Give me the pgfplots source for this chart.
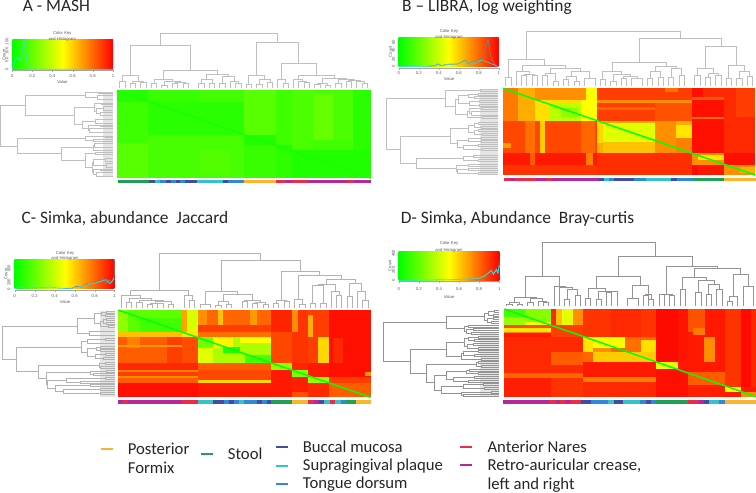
\documentclass[border=0pt]{standalone}
\usepackage{pgfplots}
\pgfplotsset{compat=1.18}
\usepackage{fontspec}
\setmainfont{Carlito}
\newfontfamily\hv{Liberation Sans}
\definecolor{kg}{rgb}{0,1,0}
\definecolor{ky}{rgb}{1,1,0}
\definecolor{kr}{rgb}{1,0,0}
\definecolor{cpo}{HTML}{FDB32B}
\definecolor{cst}{HTML}{1FA055}
\definecolor{cbu}{HTML}{3F4CA8}
\definecolor{csu}{HTML}{35C3C8}
\definecolor{cto}{HTML}{2F8AD6}
\definecolor{can}{HTML}{EE2A4A}
\definecolor{cre}{HTML}{B5289A}
\definecolor{kcy}{HTML}{35E0E8}
\pgfplotsset{panel/.style n args={4}{hide axis,scale only axis,y dir=reverse,
  xmin=0,xmax=#3,ymin=0,ymax=#4,width=#1,height=#2,anchor=north west}}
% cell of the heat map: x1 x2 y1 y2 value(0..100)
\def\Rr#1 #2 #3 #4 #5;{\ifnum#5<50 \edef\cc{ky!\the\numexpr2*#5\relax!kg}\else\edef\cc{kr!\the\numexpr2*#5-100\relax!ky}\fi
  \edef\tmp{\noexpand\addplot[forget plot,draw=none,fill=\cc] coordinates {(#1,#3)(#2,#3)(#2,#4)(#1,#4)} --cycle;}\tmp}
% dendrogram: x1 x2 y1 y2 top
\def\Tp#1 #2 #3 #4 #5;{\addplot[forget plot,den] coordinates {(#1,#3)(#1,#5)(#2,#5)(#2,#4)};}
\def\Up#1 #2 #3;{\edef\tmp{\noexpand\addplot[forget plot,den] coordinates {(#1,\yb)(#1,#3)(#2,#3)(#2,\yb)};}\tmp}
\def\Lt#1 #2 #3 #4 #5;{\addplot[forget plot,den] coordinates {(#3,#1)(#5,#1)(#5,#2)(#4,#2)};}
% sample colour bar
\def\Bb#1 #2 #3;{\edef\tmp{\noexpand\addplot[forget plot,draw=none,fill=#3] coordinates {(#1,\ba)(#2,\ba)(#2,\bb)(#1,\bb)} --cycle;}\tmp}
\def\Gg#1 #2 #3 #4;{\addplot[forget plot,draw=none,fill=gray!20] coordinates {(#1,#3)(#2,#3)(#2,#4)(#1,#4)} --cycle;}
\def\Diag#1 #2 #3 #4;{\addplot[forget plot,dg] coordinates {(#1,#2)(#3,#4)};}
\def\Key#1 #2 #3 #4 #5;{\addplot[forget plot,draw=none,left color=kg,right color=ky] coordinates {(#1,#4)(#2,#4)(#2,#5)(#1,#5)} --cycle;
  \addplot[forget plot,draw=none,left color=ky,right color=kr] coordinates {(#2,#4)(#3,#4)(#3,#5)(#2,#5)} --cycle;}
\def\KT#1 #2 #3 #4 #5;{\node[kt] at (axis cs:#1,#2) {Color Key};\node[kt] at (axis cs:#1,#3) {and Histogram};\node[kt] at (axis cs:#1,#5) {Value};}
\def\KX#1 #2 #3 #4 #5 #6 #7;{\node[kt] at (axis cs:#1,#7) {0};\node[kt] at (axis cs:#2,#7) {0.2};\node[kt] at (axis cs:#3,#7) {0.4};\node[kt] at (axis cs:#4,#7) {0.6};\node[kt] at (axis cs:#5,#7) {0.8};\node[kt] at (axis cs:#6,#7) {1};}
\def\KA#1 #2 #3 #4 #5 #6 #7 #8;{\addplot[forget plot,black!35,line width=.25bp] coordinates {(#1,#8)(#1,#7)(#2,#7)(#2,#8)(#2,#7)(#3,#7)(#3,#8)(#3,#7)(#4,#7)(#4,#8)(#4,#7)(#5,#7)(#5,#8)(#5,#7)(#6,#7)(#6,#8)};}
\def\KY#1 #2 #3;{\node[kt,rotate=90] at (axis cs:#1,#2) {#3};}
\tikzset{kt/.style={font=\hv\fontsize{4.2bp}{5bp}\selectfont,text=black!65,inner sep=0pt},
  ti/.style={font=\fontsize{17.4bp}{20bp}\selectfont,text=black!85,anchor=base west,inner sep=0pt},
  lg/.style={font=\fontsize{16.7bp}{19bp}\selectfont,text=black!85,anchor=base west,inner sep=0pt},
  dg/.style={color=kg,line width=1.5bp}}
\begin{document}
\begin{tikzpicture}[x=1bp,y=1bp]
\path[use as bounding box] (0,0) rectangle (756bp,493bp);
% ---------------- A
\begin{axis}[panel={378bp}{200bp}{1134}{600},at={(0bp,493bp)},den/.style={gray!50,line width=.45bp},dg/.style={color=ky!8!kg,line width=1.2bp}]
\node[ti] at (axis cs:68,36) {A - MASH};
\Key 37 188 339 119 208;
\KT 187 101 118 0 246; \KX 37 97 157 218 278 339 228; \KA 37 97 157 218 278 339 210 216;
\addplot[forget plot,kcy,line width=.7bp] coordinates {(37,208)(42,195)(47,175)(52,172)(58,180)(63,172)(68,150)(73,122)(78,160)(82,190)(88,200)(94,205)(100,208)(339,208)};
\KY 12 165 Count; \KY 21 208 0; \KY 21 180 50; \KY 21 153 100; \KY 21 125 150;
\Rr 351 1112 271 535 13;
\Rr 351 445 271 305 7; \Rr 351 445 305 430 12; \Rr 351 445 430 535 17;
\Rr 445 733 305 405 8; \Rr 445 733 405 535 14; \Rr 600 690 450 520 16; \Rr 445 600 271 305 11;
\Rr 733 827 271 405 17; \Rr 733 827 405 435 6; \Rr 733 827 435 535 11;
\Rr 827 875 271 435 12; \Rr 827 875 435 450 6; \Rr 827 875 450 535 9;
\Rr 875 1112 450 535 6; \Rr 940 1000 280 420 20; \Rr 1000 1060 280 420 15; \Rr 1060 1112 271 450 8; \Rr 875 940 271 450 15;
\Diag 351 271 1112 535;
\def\ba{541}\def\bb{550}
\Bb 353 447 cst; \Bb 447 465 cbu; \Bb 465 480 csu; \Bb 480 497 cto; \Bb 497 512 cbu; \Bb 512 527 cto; \Bb 527 541 cbu; \Bb 541 556 cto; \Bb 556 590 cbu; \Bb 590 669 csu; \Bb 669 685 cbu; \Bb 685 733 cto; \Bb 733 827 cpo; \Bb 827 857 can; \Bb 857 875 cre; \Bb 875 923 can; \Bb 923 1045 cre; \Bb 1045 1062 can; \Bb 1062 1112 cre;
\def\yb{265}
\Up 359 375 245; \Up 391 406 250; \Up 422 438 247; \Tp 398 430 250 247 244; \Tp 367 414 245 244 226;
\Up 454 470 250; \Up 485 501 257; \Up 517 533 250; \Up 549 565 250; \Tp 525 557 250 250 246; \Tp 493 541 257 246 243; \Tp 462 517 250 243 238;
\Up 596 612 250; \Up 628 644 250; \Tp 604 636 250 250 238; \Up 659 675 250; \Up 707 723 250; \Tp 691 715 265 250 245; \Tp 667 703 250 245 229; \Tp 620 685 238 229 222; \Tp 490 653 238 222 210; \Tp 391 572 226 210 137;
\Up 738 754 253; \Up 770 786 252; \Up 802 817 248; \Tp 778 810 252 248 238; \Tp 746 794 253 238 226;
\Up 849 865 250; \Tp 833 857 265 250 237; \Up 912 928 248; \Tp 896 920 265 248 244; \Tp 881 908 265 244 238;
\Up 944 960 254; \Up 975 991 256; \Tp 952 983 254 256 250; \Up 1007 1023 250; \Up 1039 1054 243; \Up 1086 1102 250; \Tp 1070 1094 265 250 245; \Tp 1046 1082 243 245 240; \Tp 1015 1064 250 240 238; \Tp 967 1039 250 238 236; \Tp 894 1003 238 236 226; \Tp 845 948 237 226 190; \Tp 770 896 226 190 127; \Tp 481 833 137 127 100;
\Gg 310 338 275 530;
\Lt 276 281 338 338 295; \Lt 287 298 338 338 293; \Lt 278 292 295 293 255;
\Lt 309 314 338 338 305; \Lt 320 331 338 338 310; \Lt 336 347 338 338 300; \Lt 325 341 310 300 290; \Lt 311 333 305 290 283;
\Lt 358 369 338 338 285; \Lt 375 380 338 338 300; \Lt 386 397 338 338 268; \Lt 377 391 300 268 264; \Lt 363 384 285 264 248; \Lt 322 373 283 248 222; \Lt 285 347 255 222 75;
\Lt 408 413 338 338 315; \Lt 419 424 338 338 280; \Lt 410 421 315 280 257; \Lt 430 441 338 338 283; \Lt 435 452 283 338 280;
\Lt 457 463 338 338 285; \Lt 474 485 338 338 315; \Lt 490 501 338 338 318; \Lt 479 495 315 318 281; \Lt 507 512 338 338 300; \Lt 518 529 338 338 290; \Lt 509 523 300 290 281; \Lt 487 516 281 281 278; \Lt 460 501 285 278 257; \Lt 443 480 280 257 185; \Lt 415 461 257 185 52; \Lt 316 438 75 52 1;
\end{axis}
% ---------------- B
\begin{axis}[panel={378bp}{200bp}{1134}{600},at={(378bp,493bp)},den/.style={gray!50,line width=.45bp}]
\node[ti] at (axis cs:72,36) {B – LIBRA, log weighting};
\Key 62 212 362 113 200;
\KT 213 95 111 0 238; \KX 62 122 182 242 302 362 220; \KA 62 122 182 242 302 362 203 209;
\addplot[forget plot,gray,line width=.7bp] coordinates {(150,199)(170,197)(180,192)(190,197)(210,193)(240,192)(262,180)(270,192)(285,184)(295,188)(305,178)(315,165)(322,145)(330,118)(335,150)(340,175)(348,190)(355,198)};
\addplot[forget plot,kcy,line width=.6bp] coordinates {(62,200)(150,199)(170,197)(180,192)(190,197)(210,193)(240,192)(262,182)(270,194)(285,186)(295,190)(305,182)(312,180)(362,200)};
\KY 37 155 Count; \KY 46 200 0; \KY 46 178 20; \KY 46 152 40; \KY 46 128 60;
\Rr 375 1132 265 525 93;
\Rr 375 420 265 362 76; \Rr 420 470 265 362 66; \Rr 470 658 265 362 56; \Rr 515 610 310 362 36; \Rr 550 600 325 350 28; \Rr 610 658 265 362 50; \Rr 470 515 265 300 72; \Rr 515 625 265 300 72;
\Rr 375 658 362 460 86; \Rr 485 500 362 460 60; \Rr 440 470 362 460 78; \Rr 610 650 362 460 80; \Rr 375 400 430 445 70;
\Rr 375 658 460 495 95; \Rr 625 645 460 495 75; \Rr 455 470 460 495 82; \Rr 375 658 495 525 90;
\Rr 658 943 265 362 88; \Rr 658 943 300 308 72; \Rr 658 943 320 330 80; \Rr 860 900 265 275 78; \Rr 830 943 308 362 84;
\Rr 658 943 362 460 66; \Rr 675 830 370 425 44; \Rr 675 830 425 460 62; \Rr 830 895 362 460 72; \Rr 895 943 375 415 55; \Rr 895 943 415 460 75; \Rr 658 675 362 430 58;
\Rr 658 943 460 525 91;
\Rr 943 1037 265 460 97; \Rr 943 1037 290 300 82; \Rr 943 1037 350 358 78; \Rr 975 1037 265 290 92;
\Rr 943 1037 460 495 72; \Rr 960 1037 465 480 55; \Rr 943 960 495 525 98; \Rr 960 1037 495 525 96;
\Rr 1037 1132 265 460 92; \Rr 1075 1132 265 350 88; \Rr 1037 1132 460 495 97;
\Rr 1037 1132 495 525 72; \Rr 1085 1132 500 520 66;
\Diag 375 265 1132 525;
\def\ba{534}\def\bb{544}
\Bb 379 393 can; \Bb 393 412 cre; \Bb 412 473 can; \Bb 473 504 cre; \Bb 504 521 can; \Bb 521 662 cre; \Bb 662 677 cbu; \Bb 677 692 csu; \Bb 692 709 cto; \Bb 709 767 cbu; \Bb 767 803 cto; \Bb 803 879 csu; \Bb 879 897 cbu; \Bb 897 944 cto; \Bb 944 1037 cst; \Bb 1037 1134 cpo;
\def\yb{258}
\Up 383 399 232; \Up 430 446 226; \Up 462 478 226; \Tp 438 470 226 226 222; \Tp 415 454 258 222 215;
\Up 493 509 226; \Up 525 541 245; \Tp 501 533 226 245 221; \Up 556 572 238; \Up 588 604 245; \Tp 564 596 238 245 230; \Up 619 651 235; \Tp 580 635 230 235 213; \Tp 517 607 221 213 205; \Tp 434 562 215 205 197; \Tp 391 498 232 197 178;
\Up 667 682 238; \Up 698 714 245; \Up 730 745 235; \Up 761 793 235; \Tp 737 777 235 235 228; \Tp 706 757 245 228 222; \Tp 674 731 238 222 214;
\Up 808 824 235; \Up 840 856 232; \Tp 816 848 235 232 213; \Up 871 887 232; \Up 903 919 226; \Tp 879 911 232 226 205; \Tp 832 895 213 205 198; \Tp 702 864 214 198 187;
\Up 950 966 226; \Up 982 997 232; \Up 1013 1029 226; \Tp 990 1021 232 226 220; \Tp 958 1005 226 220 204; \Up 1045 1060 235; \Up 1076 1092 235; \Up 1108 1123 228; \Tp 1084 1115 235 228 213; \Tp 1052 1100 235 213 197; \Tp 982 1076 204 197 139; \Tp 783 1029 187 139 114; \Tp 444 906 178 114 95;
\Gg 305 360 268 524;
\Lt 268 274 360 360 307; \Lt 279 285 360 360 300; \Lt 290 296 360 360 290; \Lt 282 293 300 290 270; \Lt 301 307 360 360 305; \Lt 312 318 360 360 305; \Lt 304 315 305 305 273; \Lt 287 310 270 273 240; \Lt 323 329 360 360 310; \Lt 334 345 360 360 280; \Lt 326 340 310 280 273; \Lt 350 356 360 360 313; \Lt 333 353 273 313 268; \Lt 298 343 240 268 232; \Lt 271 320 307 232 202;
\Lt 367 373 360 360 300; \Lt 378 384 360 360 310; \Lt 370 381 300 310 288; \Lt 389 395 360 360 300; \Lt 400 406 360 360 313; \Lt 392 403 300 313 290; \Lt 375 397 288 290 272;
\Lt 411 417 360 360 310; \Lt 422 428 360 360 310; \Lt 414 425 310 310 270; \Lt 433 439 360 360 300; \Lt 444 450 360 360 310; \Lt 436 447 300 310 255; \Lt 420 441 270 255 238; \Lt 386 430 272 238 217;
\Lt 466 472 360 360 285; \Lt 477 483 360 360 300; \Lt 469 480 285 300 255; \Lt 494 500 360 360 270; \Lt 505 511 360 360 270; \Lt 516 522 360 360 300; \Lt 508 519 270 300 238; \Lt 497 513 270 238 235; \Lt 475 505 255 235 116; \Lt 408 490 217 116 67; \Lt 295 449 202 67 26;
\end{axis}
% ---------------- C
\begin{axis}[panel={378bp}{215bp}{1134}{645},at={(0bp,288bp)},den/.style={gray!60,line width=.45bp}]
\node[ti] at (axis cs:64,55) {C- Simka, abundance\hspace{4bp} Jaccard};
\Key 44 195 343 163 252;
\KT 195 145 160 0 290; \KX 44 104 164 224 284 343 272; \KA 44 104 164 224 284 343 255 261;
\addplot[forget plot,gray,line width=.7bp] coordinates {(190,251)(215,250)(230,244)(245,246)(260,236)(270,240)(285,230)(295,236)(308,220)(318,235)(328,225)(336,232)(343,210)(343,165)};
\addplot[forget plot,kcy,line width=.7bp] coordinates {(44,252)(60,245)(75,249)(100,246)(120,248)(150,246)(180,250)(215,250)(245,244)(270,238)(295,232)(318,224)(330,236)(343,220)};
\KY 18 207 Count; \KY 27 252 0; \KY 27 232 200; \KY 27 190 600;
\Rr 355 1112 315 577 95;
\Rr 355 385 315 380 28; \Rr 385 545 315 380 18; \Rr 420 545 340 380 13;
\Rr 545 560 315 380 68; \Rr 560 593 315 380 42;
\Rr 355 545 380 396 62; \Rr 545 593 380 396 55;
\Rr 355 545 396 473 82; \Rr 380 420 396 430 75; \Rr 500 545 396 473 88; \Rr 355 545 420 426 70; \Rr 545 593 396 473 85;
\Rr 355 593 473 495 92; \Rr 355 593 495 500 75; \Rr 355 593 500 512 88; \Rr 355 593 512 520 72; \Rr 355 593 520 535 82; \Rr 355 593 535 577 97;
\Rr 593 813 315 380 80; \Rr 593 620 315 380 72; \Rr 655 670 315 380 62; \Rr 750 770 315 380 70; \Rr 593 813 360 380 88; \Rr 593 813 380 396 78;
\Rr 593 813 396 473 34; \Rr 593 640 396 430 22; \Rr 640 700 396 430 52; \Rr 670 720 425 445 6; \Rr 720 813 396 415 50; \Rr 593 640 430 473 44; \Rr 735 813 450 473 14;
\Rr 593 813 473 495 82; \Rr 593 813 495 525 86; \Rr 593 813 525 535 58; \Rr 593 813 535 577 95;
\Rr 813 877 315 380 93; \Rr 813 877 380 473 86; \Rr 813 877 473 495 28; \Rr 813 877 495 577 95;
\Rr 877 925 315 473 90; \Rr 877 893 315 380 72; \Rr 877 925 473 495 93; \Rr 877 925 495 515 25; \Rr 877 925 515 560 94; \Rr 877 925 560 577 84;
\Rr 925 988 315 473 88; \Rr 925 940 330 395 66; \Rr 955 988 396 473 58; \Rr 925 988 473 515 95; \Rr 925 988 515 535 30; \Rr 925 988 535 577 92;
\Rr 988 1112 315 515 97; \Rr 1000 1030 400 473 92; \Rr 988 1112 515 535 88; \Rr 988 1112 535 577 82; \Rr 1095 1112 500 512 70;
\Diag 355 315 1112 577;
\def\ba{584}\def\bb{596}
\Bb 355 370 cre; \Bb 370 384 can; \Bb 384 545 cre; \Bb 545 593 can; \Bb 593 640 csu; \Bb 640 672 cbu; \Bb 672 687 cto; \Bb 687 703 cbu; \Bb 703 718 cto; \Bb 718 733 csu; \Bb 733 770 cto; \Bb 770 785 cbu; \Bb 785 800 cto; \Bb 800 813 cbu; \Bb 813 877 cst; \Bb 877 925 cpo; \Bb 925 941 can; \Bb 941 958 cre; \Bb 958 973 cbu; \Bb 973 989 csu; \Bb 989 1005 can; \Bb 1005 1022 csu; \Bb 1022 1037 cto; \Bb 1037 1068 cst; \Bb 1068 1114 cpo;
\def\yb{310}
\Up 379 395 292; \Up 410 426 293; \Up 442 458 298; \Up 473 489 296; \Up 505 521 298; \Tp 450 481 298 296 294; \Tp 465 513 294 298 290; \Tp 418 489 293 290 285; \Tp 387 453 292 285 280; \Tp 363 420 310 280 272;
\Up 568 584 285; \Tp 552 576 310 285 272; \Tp 391 564 272 272 255;
\Up 600 631 298; \Up 647 663 300; \Up 678 694 298; \Tp 655 686 300 298 288; \Up 726 741 290; \Up 757 773 295; \Up 789 804 298; \Tp 765 796 295 298 292; \Tp 733 780 290 292 285; \Tp 670 757 288 285 268; \Tp 615 713 298 268 258;
\Up 820 836 296; \Up 852 867 290; \Tp 828 860 296 290 285; \Up 899 915 297; \Tp 883 907 310 297 283;
\Up 930 946 295; \Up 962 978 295; \Tp 938 970 295 295 240; \Up 1009 1025 270; \Tp 993 1017 310 270 258; \Tp 954 1005 240 258 238; \Up 1041 1056 275; \Up 1088 1104 285; \Tp 1072 1096 310 285 258; \Tp 1048 1084 275 258 236; \Tp 980 1066 238 236 222; \Tp 895 1023 283 222 211; \Tp 844 959 285 211 198; \Tp 664 901 258 198 165; \Tp 478 782 255 165 145;
\Gg 300 345 318 575;
\Lt 318 324 345 345 320; \Lt 329 335 345 345 315; \Lt 321 332 320 315 305; \Lt 340 346 345 345 320; \Lt 351 357 345 345 320; \Lt 343 354 320 320 310; \Lt 362 368 345 345 325; \Lt 348 365 310 325 300; \Lt 326 356 305 300 283; \Lt 379 390 345 345 268; \Lt 341 385 283 268 232;
\Lt 401 407 345 345 315; \Lt 423 429 345 345 300; \Lt 434 440 345 345 300; \Lt 426 437 300 300 290; \Lt 445 451 345 345 315; \Lt 456 462 345 345 310; \Lt 448 459 315 310 285; \Lt 431 453 290 285 262; \Lt 404 415 315 345 262; \Lt 410 442 262 262 243;
\Lt 473 479 345 345 315; \Lt 484 490 345 345 300; \Lt 476 487 315 300 298; \Lt 495 501 345 345 320; \Lt 506 512 345 345 280; \Lt 498 509 320 280 270; \Lt 517 523 345 345 315; \Lt 528 534 345 345 240; \Lt 520 531 315 240 200; \Lt 539 545 345 345 270; \Lt 550 556 345 345 300; \Lt 561 567 345 345 300; \Lt 553 564 300 300 190; \Lt 542 558 270 190 165; \Lt 525 550 200 165 143; \Lt 503 537 270 143 138; \Lt 481 520 298 138 116; \Lt 426 500 243 116 50; \Lt 363 463 232 50 7;
\end{axis}
% ---------------- D
\begin{axis}[panel={378bp}{215bp}{1134}{645},at={(378bp,288bp)},den/.style={gray!85,line width=.5bp}]
\node[ti] at (axis cs:68,55) {D- Simka, Abundance\hspace{4bp} Bray-curtis};
\Key 62 213 364 140 226;
\KT 213 114 136 0 275; \KX 62 122 183 243 303 364 252; \KA 62 122 183 243 303 364 229 235;
\addplot[forget plot,gray,line width=.6bp] coordinates {(270,225)(300,224)(320,215)(330,205)(340,195)(345,205)(355,192)(360,200)(364,170)};
\addplot[forget plot,kcy,line width=.8bp] coordinates {(62,226)(150,225)(220,224)(270,222)(300,221)(320,213)(330,205)(340,196)(346,208)(355,194)(360,205)(364,180)};
\KY 36 182 Count; \KY 46 226 0; \KY 46 195 200; \KY 46 145 400;
\Rr 379 1134 312 575 95;
\Rr 379 440 312 335 14; \Rr 440 520 312 350 26; \Rr 379 440 335 360 30; \Rr 440 520 350 360 48;
\Rr 520 535 312 360 92; \Rr 535 552 312 360 62; \Rr 552 585 312 360 45; \Rr 585 615 312 360 72;
\Rr 379 520 360 368 85; \Rr 379 520 368 382 55; \Rr 379 520 382 385 75; \Rr 520 615 360 395 88;
\Rr 379 615 395 505 92; \Rr 520 615 440 480 82;
\Rr 379 615 505 520 80; \Rr 379 520 520 575 94; \Rr 520 615 520 575 90;
\Rr 615 835 312 395 90; \Rr 700 790 312 395 92;
\Rr 615 835 395 470 80; \Rr 615 645 395 440 55; \Rr 645 740 395 430 48; \Rr 740 790 405 440 78; \Rr 790 835 405 440 56; \Rr 645 835 440 470 60; \Rr 645 700 430 440 72;
\Rr 615 835 470 515 95; \Rr 615 835 515 530 75; \Rr 615 835 530 575 92;
\Rr 835 900 312 470 98; \Rr 900 930 312 470 96; \Rr 835 900 470 492 46; \Rr 835 930 492 575 97;
\Rr 930 980 312 380 84; \Rr 945 980 370 390 76; \Rr 930 1040 390 500 95; \Rr 978 1010 395 470 72;
\Rr 930 1040 500 540 82; \Rr 930 1040 540 575 94;
\Rr 1040 1090 312 545 90; \Rr 1090 1120 312 545 98; \Rr 1120 1134 312 545 92;
\Rr 1040 1090 545 560 50; \Rr 1090 1134 560 575 72;
\Diag 379 312 1134 575;
\def\ba{584}\def\bb{596}
\Bb 375 515 cre; \Bb 515 533 can; \Bb 533 547 cre; \Bb 547 563 can; \Bb 563 575 cre; \Bb 575 610 can; \Bb 610 640 cbu; \Bb 640 690 cto; \Bb 690 707 csu; \Bb 707 736 cbu; \Bb 736 786 csu; \Bb 786 803 cto; \Bb 803 819 cbu; \Bb 819 835 cto; \Bb 835 929 cst; \Bb 929 961 can; \Bb 961 977 cre; \Bb 977 993 cbu; \Bb 993 1023 csu; \Bb 1023 1040 cto; \Bb 1040 1134 cpo;
\def\yb{303}
\Up 386 402 297; \Up 418 433 298; \Tp 394 425 297 298 292; \Up 449 465 293; \Up 496 512 292; \Tp 481 504 303 292 288; \Tp 457 492 293 288 280; \Tp 410 475 292 280 276;
\Up 559 575 283; \Up 591 607 270; \Tp 567 599 283 270 253; \Tp 544 583 303 253 247; \Tp 528 563 303 247 243; \Tp 442 545 276 243 215;
\Up 622 638 280; \Up 654 670 283; \Up 685 701 262; \Tp 693 717 262 303 260; \Tp 662 705 283 260 258; \Tp 630 683 280 258 250; \Up 748 780 280; \Up 796 811 272; \Up 811 827 283; \Tp 803 819 272 283 268; \Tp 764 811 280 268 241; \Tp 656 787 250 241 215;
\Up 843 859 268; \Up 874 890 272; \Tp 851 882 268 272 268; \Up 906 922 253; \Up 953 969 262; \Up 985 1000 267; \Up 1016 1032 252; \Tp 992 1024 267 252 238; \Tp 961 1008 262 238 226; \Tp 914 985 253 226 217; \Up 1048 1063 290; \Tp 1055 1079 290 303 275; \Up 1095 1126 243; \Tp 1067 1110 275 243 207; \Tp 950 1088 217 207 190; \Tp 866 1019 268 190 183; \Tp 721 942 215 183 155; \Tp 493 832 215 155 112;
\Gg 305 363 385 573;
\Lt 316 322 363 363 350; \Lt 327 333 363 363 345; \Lt 319 330 350 345 330; \Lt 338 344 363 363 345; \Lt 349 355 363 363 340; \Lt 341 352 345 340 328; \Lt 325 346 330 328 318; \Lt 360 366 363 363 270; \Lt 371 377 363 363 285; \Lt 382 388 363 363 280; \Lt 374 385 285 280 265; \Lt 363 380 270 265 258; \Lt 335 371 318 258 205;
\Lt 393 399 363 363 300; \Lt 404 410 363 363 290; \Lt 396 407 300 290 270; \Lt 415 421 363 363 285; \Lt 426 432 363 363 300; \Lt 418 429 285 300 268; \Lt 401 423 270 268 258; \Lt 437 443 363 363 300; \Lt 448 454 363 363 290; \Lt 440 451 300 290 255; \Lt 459 465 363 363 310; \Lt 445 462 255 310 250; \Lt 412 453 258 250 205;
\Lt 470 476 363 363 300; \Lt 481 487 363 363 310; \Lt 473 484 300 310 295; \Lt 492 498 363 363 275; \Lt 503 509 363 363 300; \Lt 495 506 275 300 265; \Lt 514 520 363 363 290; \Lt 525 531 363 363 270; \Lt 517 528 290 270 225; \Lt 500 522 265 225 205; \Lt 536 542 363 363 315; \Lt 547 553 363 363 320; \Lt 539 550 315 320 255; \Lt 558 564 363 363 340; \Lt 569 573 363 363 255; \Lt 561 571 340 255 250; \Lt 545 566 255 250 190; \Lt 511 555 205 190 170; \Lt 478 533 295 170 145; \Lt 433 505 205 145 97; \Lt 353 469 205 97 17;
\end{axis}
% ---------------- legend
\begin{axis}[panel={520bp}{68bp}{1560}{204},at={(90bp,68bp)},clip=false]
\def\ba{69}\def\bb{75} \Bb 32 68 cpo;
\def\ba{84}\def\bb{90} \Bb 332 368 cst;
\def\ba{64}\def\bb{70} \Bb 557 593 cbu;
\def\ba{119}\def\bb{125} \Bb 557 593 csu;
\def\ba{173}\def\bb{179} \Bb 557 593 cto;
\def\ba{64}\def\bb{70} \Bb 1110 1146 can;
\def\ba{117}\def\bb{123} \Bb 1110 1146 cre;
\node[lg] at (axis cs:113,87) {Posterior};
\node[lg] at (axis cs:113,145) {Formix};
\node[lg] at (axis cs:413,102) {Stool};
\node[lg] at (axis cs:638,82) {Buccal mucosa};
\node[lg] at (axis cs:638,137) {Supragingival plaque};
\node[lg] at (axis cs:638,190) {Tongue dorsum};
\node[lg] at (axis cs:1192,82) {Anterior Nares};
\node[lg] at (axis cs:1192,135) {Retro-auricular crease,};
\node[lg] at (axis cs:1192,192) {left and right};
\end{axis}
\end{tikzpicture}
\end{document}
